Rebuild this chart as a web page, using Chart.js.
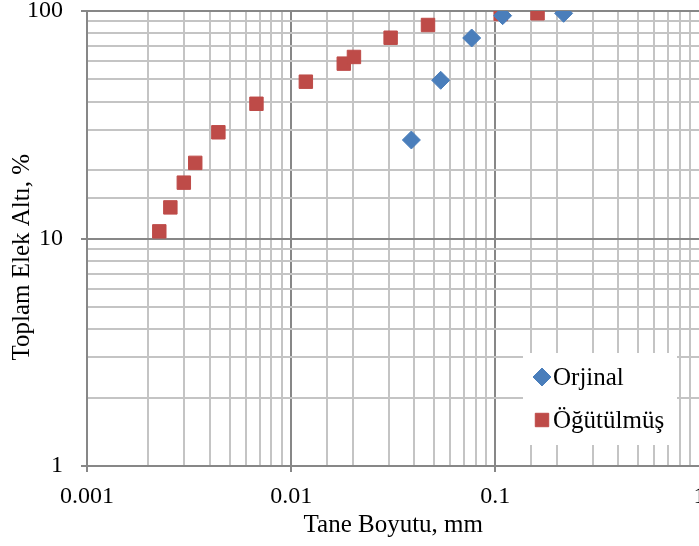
<!DOCTYPE html>
<html>
<head>
  <title>Tane Boyutu</title>
  <script src="https://cdn.jsdelivr.net/npm/chart.js@4.4.1/dist/chart.umd.min.js"></script>
  <style>
    body { margin: 0; background: #fff; overflow: hidden; }
    #wrap { width: 710px; height: 546px; position: relative; }
  </style>
</head>
<body>
<div id="wrap"><canvas id="sieveChart"></canvas></div>

<script>
// Orjinal (blue diamonds)
var orjinalX = [0.0388, 0.054, 0.0766, 0.1086, 0.216]
var orjinalY = [27.1, 49.6, 76.1, 95.4, 97.7]
// Ogutulmus (red squares)
var ogutX = [0.00226, 0.00256, 0.00298, 0.00339, 0.0044, 0.00676, 0.0118, 0.0181, 0.0203, 0.0307, 0.0468, 0.1062, 0.161]
var ogutY = [10.75, 13.7, 17.6, 21.5, 29.3, 39.1, 48.9, 58.7, 62.8, 76.3, 86.8, 97.0, 97.7]
var seriesNames = ["Orjinal", "Öğütülmüş"]
var xTickLabels = {0.001: "0.001", 0.01: "0.01", 0.1: "0.1", 1: "1"}
var yTickLabels = {1: "1", 10: "10", 100: "100"}

var serif = "'Liberation Serif', 'Times New Roman', serif"
var majorGrid = "#878787", minorGrid = "#c4c4c4"

function isMajor(v){ //power of ten?
  var l = Math.log10(v)
  return Math.abs(l - Math.round(l)) < 1e-6
}
function toPoints(xs, ys){
  var pts = []
  for(i=0;i<xs.length;i++){ pts.push({x: xs[i], y: ys[i]}) }
  return pts
}

//legend box drawn inside the plot, like the original
var boxLegend = {
  id: "boxLegend",
  afterDatasetsDraw: function(chart){
    var ctx = chart.ctx
    var x0 = 523, y0 = 353, w = 154, h = 92
    ctx.save()
    ctx.fillStyle = "#fff"
    ctx.fillRect(x0, y0, w, h)
    ctx.font = "25px " + serif
    ctx.textBaseline = "alphabetic"
    chart.data.datasets.forEach(function(ds, k){
      var cy = y0 + 24 + k * 43
      ctx.fillStyle = ds.backgroundColor
      ctx.strokeStyle = ds.borderColor
      Chart.helpers.drawPoint(ctx, {pointStyle: ds.pointStyle, radius: ds.pointRadius, borderWidth: 1}, x0 + 19, cy)
      ctx.fillStyle = "#000"
      ctx.fillText(ds.label, x0 + 30, cy + 8)
    })
    ctx.restore()
  }
}

var chart = new Chart(document.getElementById("sieveChart").getContext("2d"), {
  type: "scatter",
  data: {
    datasets: [{
      label: seriesNames[0],
      data: toPoints(orjinalX, orjinalY),
      pointStyle: "rectRot",
      pointRadius: 9,
      pointHoverRadius: 9,
      backgroundColor: "#4a7ebb",
      borderColor: "#4a7ebb",
      borderWidth: 1
    }, {
      label: seriesNames[1],
      data: toPoints(ogutX, ogutY),
      pointStyle: "rect",
      pointRadius: 9.5,
      pointHoverRadius: 9.5,
      backgroundColor: "#be4b48",
      borderColor: "#be4b48",
      borderWidth: 1
    }]
  },
  options: {
    responsive: true,
    maintainAspectRatio: false,
    animation: false,
    layout: { padding: { top: 11, right: 0, left: 0, bottom: 0 } },
    plugins: { legend: { display: false }, tooltip: { enabled: false } },
    scales: {
      x: {
        type: "logarithmic",
        min: 0.001,
        max: 1,
        afterFit: function(s){ s.height = 80; s.paddingLeft = 0; s.paddingRight = 0 },
        border: { color: majorGrid, width: 2 },
        grid: {
          lineWidth: 2,
          tickLength: 6,
          color: function(c){ return c.tick && isMajor(c.tick.value) ? majorGrid : minorGrid },
          tickColor: function(c){ return c.tick && isMajor(c.tick.value) ? majorGrid : "rgba(0,0,0,0)" }
        },
        ticks: {
          autoSkip: false,
          maxRotation: 0,
          padding: 10,
          color: "#000",
          font: { family: serif, size: 24 },
          callback: function(v){ return isMajor(v) ? xTickLabels[Math.pow(10, Math.round(Math.log10(v)))] : "" }
        },
        title: {
          display: true,
          text: "Tane Boyutu, mm",
          color: "#000",
          font: { family: serif, size: 25 },
          padding: { top: 0, bottom: 6 }
        }
      },
      y: {
        type: "logarithmic",
        min: 1,
        max: 100,
        afterFit: function(s){ s.width = 87; s.paddingTop = 0; s.paddingBottom = 0 },
        border: { color: majorGrid, width: 2 },
        grid: {
          lineWidth: 2,
          tickLength: 6,
          color: function(c){ return c.tick && isMajor(c.tick.value) ? majorGrid : minorGrid },
          tickColor: function(c){ return c.tick && isMajor(c.tick.value) ? majorGrid : "rgba(0,0,0,0)" }
        },
        ticks: {
          autoSkip: false,
          padding: 18,
          color: "#000",
          font: { family: serif, size: 24 },
          callback: function(v){ return isMajor(v) ? yTickLabels[Math.round(v)] : "" }
        },
        title: {
          display: true,
          // trailing spaces push the label a little lower, as in the original
          text: "Toplam Elek Altı, %\u00a0\u00a0\u00a0\u00a0\u00a0\u00a0",
          color: "#000",
          font: { family: serif, size: 25 },
          padding: { top: 7, bottom: 0 }
        }
      }
    }
  },
  plugins: [boxLegend]
})
</script>
</body>
</html>
